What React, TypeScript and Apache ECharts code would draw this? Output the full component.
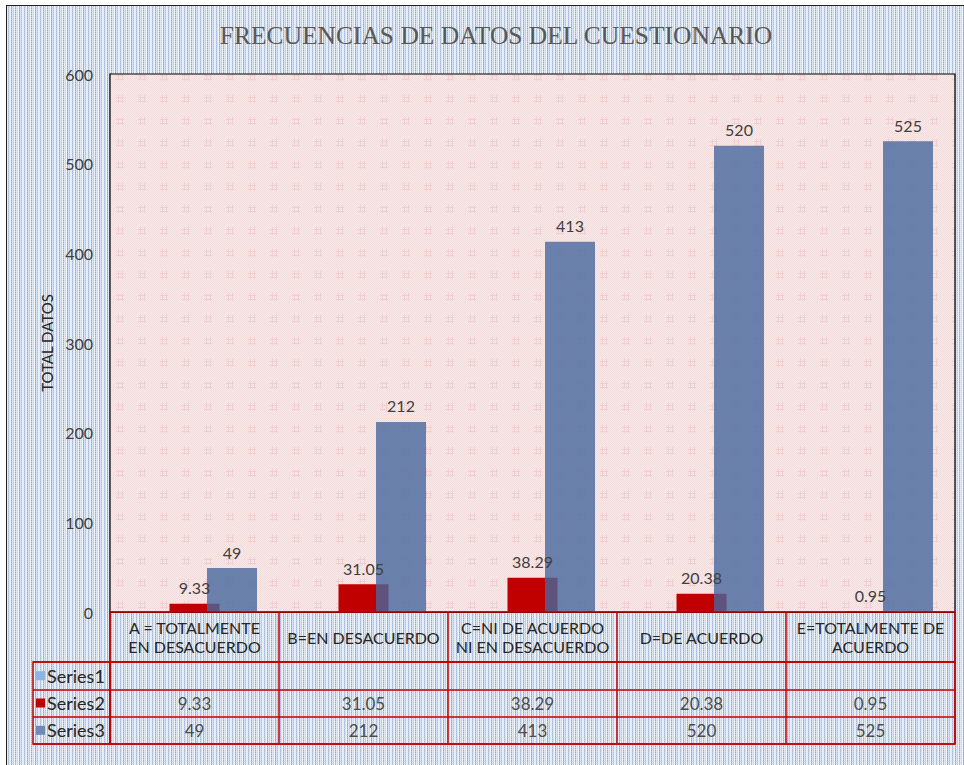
import React, { useEffect, useRef } from "react";
import * as echarts from "echarts";

const titleText = "FRECUENCIAS DE DATOS DEL CUESTIONARIO";
const yAxisName = "TOTAL DATOS";
const categories = [
  "A = TOTALMENTE\nEN DESACUERDO",
  "B=EN DESACUERDO",
  "C=NI DE ACUERDO\nNI EN DESACUERDO",
  "D=DE ACUERDO",
  "E=TOTALMENTE DE\nACUERDO",
];
const seriesNames = ["Series1", "Series2", "Series3"];
const series1Values: (number | null)[] = [null, null, null, null, null];
const series2Values: (number | null)[] = [9.33, 31.05, 38.29, 20.38, 0.95];
const series3Values: (number | null)[] = [49, 212, 413, 520, 525];
const yMin = 0;
const yMax = 600;
const yInterval = 100;

const seriesColors = ["#8eb4e3", "#c00000", "rgba(70,104,158,0.8)"];
const keyColors = ["#8eb4e3", "#c00000", "#7189b5"];

function makeBlueTile(): HTMLCanvasElement {
  const c = document.createElement("canvas");
  c.width = 16;
  c.height = 2;
  const ctx = c.getContext("2d")!;
  const cols = [
    "#dfe8f4", "#a3bbdc", "#ccdaee", "#eef3fa", "#8fa9d0", "#d5e1f0", "#b4c8e4", "#e8eff8",
    "#98b1d6", "#dbe5f2", "#c3d4eb", "#f1f5fb", "#8aa4cc", "#d2def0", "#acc2e1", "#e4ecf7",
  ];
  for (let x = 0; x < 16; x++) {
    ctx.fillStyle = cols[x];
    ctx.fillRect(x, 0, 1, 2);
    ctx.fillStyle = "rgba(255,255,255,0.3)";
    ctx.fillRect(x, x % 2 === 0 ? 1 : 0, 1, 1);
  }
  return c;
}

function makePinkTile(): HTMLCanvasElement {
  const c = document.createElement("canvas");
  c.width = 22;
  c.height = 22;
  const ctx = c.getContext("2d")!;
  ctx.fillStyle = "#f9e8e8";
  ctx.fillRect(0, 0, 22, 22);
  ctx.fillStyle = "#f3dcdc";
  for (let y = 0; y < 22; y++) {
    for (let x = 0; x < 22; x++) {
      if ((x + y) % 2 === 0) ctx.fillRect(x, y, 1, 1);
    }
  }
  ctx.fillStyle = "#efd0d0";
  ctx.fillRect(8, 7, 1, 8);
  ctx.fillRect(12, 7, 1, 8);
  ctx.fillRect(6, 9, 8, 1);
  ctx.fillRect(6, 13, 8, 1);
  return c;
}

export default function App() {
  const ref = useRef<HTMLDivElement>(null);
  const bgRef = useRef<HTMLDivElement>(null);

  useEffect(() => {
    if (!ref.current) return;
    if (bgRef.current) {
      bgRef.current.style.backgroundImage = `url(${makeBlueTile().toDataURL()})`;
    }
    const chart = echarts.init(ref.current, undefined, { renderer: "svg" });
    const pink = { image: makePinkTile(), repeat: "repeat" };
    const font = "Lato, 'Open Sans', sans-serif";

    const tableData: any[] = [];
    const rows = [series1Values, series2Values, series3Values];
    rows.forEach((vals, r) => {
      vals.forEach((v, c) => {
        if (v !== null && v !== undefined) tableData.push([c, r, v]);
      });
    });

    const red = "#c00000";
    const redLine = { show: true, interval: 0, lineStyle: { color: red, width: 1.5 } };

    const option: any = {
      animation: false,
      backgroundColor: "transparent",
      textStyle: { fontFamily: font },
      title: {
        text: titleText,
        left: 491,
        top: 17,
        textAlign: "center",
        textStyle: {
          fontFamily: "'Liberation Serif', 'DejaVu Serif', serif",
          fontSize: 25.5,
          fontWeight: "normal",
          color: "#595959",
        },
      },
      grid: [
        { left: 110, top: 74, width: 845, height: 538, show: true, backgroundColor: pink, borderColor: "#000", borderWidth: 1.2, z: 1 },
        { left: 110, top: 612, width: 845, height: 50, show: true, backgroundColor: "transparent", borderColor: red, borderWidth: 1.5, z: 3 },
        { left: 110, top: 662, width: 845, height: 82, show: true, backgroundColor: "transparent", borderColor: red, borderWidth: 1.5, z: 3 },
        { left: 33, top: 662, width: 77, height: 82, show: true, backgroundColor: "transparent", borderColor: red, borderWidth: 1.5, z: 3 },
      ],
      xAxis: [
        {
          gridIndex: 0,
          type: "category",
          data: categories,
          axisLine: { show: false },
          axisTick: { show: false },
          splitLine: { show: false },
          axisLabel: {
            interval: 0,
            margin: 25,
            verticalAlign: "middle",
            fontSize: 16,
            lineHeight: 19,
            color: "#262626",
            fontFamily: font,
          },
        },
        {
          gridIndex: 1, type: "category", data: categories,
          axisLine: { show: false }, axisTick: { show: false }, axisLabel: { show: false }, splitLine: redLine,
        },
        {
          gridIndex: 2, type: "category", data: categories,
          axisLine: { show: false }, axisTick: { show: false }, axisLabel: { show: false }, splitLine: redLine,
        },
        {
          gridIndex: 3, type: "category", data: [""],
          axisLine: { show: false }, axisTick: { show: false }, axisLabel: { show: false }, splitLine: { show: false },
        },
      ],
      yAxis: [
        {
          gridIndex: 0,
          type: "value",
          min: yMin,
          max: yMax,
          interval: yInterval,
          axisLine: { show: true, lineStyle: { color: "#000", width: 1.2 } },
          axisTick: { show: false },
          splitLine: { show: true, lineStyle: { color: "#000", width: 1 } },
          axisLabel: { fontSize: 16, color: "#404040", margin: 17, fontFamily: font },
          name: yAxisName,
          nameLocation: "middle",
          nameGap: 42,
          nameTextStyle: { fontSize: 15, color: "#262626", fontFamily: font },
        },
        { gridIndex: 1, type: "value", show: false },
        {
          gridIndex: 2, type: "category", data: seriesNames, inverse: true,
          axisLine: { show: false }, axisTick: { show: false }, axisLabel: { show: false }, splitLine: redLine,
        },
        {
          gridIndex: 3, type: "category", data: seriesNames, inverse: true,
          axisLine: { show: false }, axisTick: { show: false }, splitLine: redLine,
          axisLabel: {
            inside: true,
            margin: 3,
            formatter: (v: string, i: number) => `{k${i}|}{t|${v}}`,
            rich: {
              k0: { backgroundColor: keyColors[0], width: 9, height: 9 },
              k1: { backgroundColor: keyColors[1], width: 9, height: 9 },
              k2: { backgroundColor: keyColors[2], width: 9, height: 9 },
              t: { fontSize: 18, color: "#262626", padding: [0, 0, 0, 2], fontFamily: font },
            },
          },
        },
      ],
      series: [
        {
          name: seriesNames[0], type: "bar", xAxisIndex: 0, yAxisIndex: 0,
          data: series1Values, barWidth: 50, barGap: "-25%",
          itemStyle: { color: seriesColors[0] },
        },
        {
          name: seriesNames[1], type: "bar", xAxisIndex: 0, yAxisIndex: 0,
          data: series2Values, barWidth: 50, barGap: "-25%",
          itemStyle: { color: seriesColors[1] },
          label: { show: true, position: "top", distance: 8, fontSize: 16, color: "#404040", fontFamily: font },
        },
        {
          name: seriesNames[2], type: "bar", xAxisIndex: 0, yAxisIndex: 0,
          data: series3Values, barWidth: 50, barGap: "-25%",
          itemStyle: { color: seriesColors[2] },
          label: { show: true, position: "top", distance: 8, fontSize: 16, color: "#404040", fontFamily: font },
        },
        {
          name: "table", type: "scatter", xAxisIndex: 2, yAxisIndex: 2,
          data: tableData, symbolSize: 0, z: 5,
          label: {
            show: true, position: "inside", fontSize: 17, color: "#262626", fontFamily: font,
            formatter: (p: any) => String(p.value[2]),
          },
        },
      ],
    };
    chart.setOption(option);
    return () => chart.dispose();
  }, []);

  return (
    <div style={{ position: "fixed", left: 0, top: 0, width: 964, height: 765, background: "#fff", overflow: "hidden" }}>
      <div
        ref={bgRef}
        style={{
          position: "absolute",
          left: 6,
          top: 5,
          width: 980,
          height: 800,
          border: "1.5px solid #222",
          backgroundColor: "#c5d4ea",
          backgroundRepeat: "repeat",
        }}
      />
      <div ref={ref} style={{ position: "absolute", left: 0, top: 0, width: 964, height: 765 }} />
    </div>
  );
}
